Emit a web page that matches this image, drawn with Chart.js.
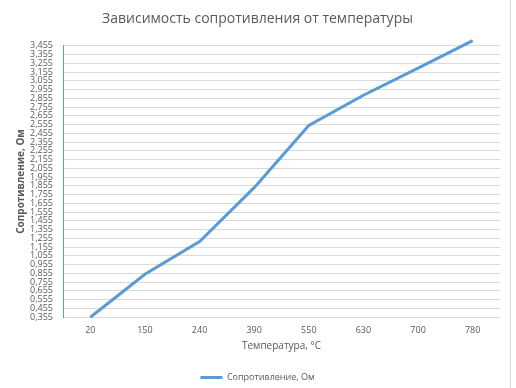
<!DOCTYPE html>
<html>
<head>
<meta charset="utf-8">
<script src="https://cdn.jsdelivr.net/npm/chart.js@4"></script>
<style>
  html, body { margin: 0; padding: 0; background: #ffffff; }
  #wrap { position: relative; width: 516px; height: 388px; }
  #edge { position: absolute; left: 510px; top: 0; width: 1px; height: 388px; background: #d9d9d9; }
</style>
</head>
<body>
<div id="wrap">
    <canvas id="chart" width="516" height="388"></canvas>
    <div id="edge"></div>
</div>
<script>
// Data
const temperatures = ["20", "150", "240", "390", "550", "630", "700", "780"];
const resistance = [0.355, 0.845, 1.22, 1.835, 2.545, 2.89, 3.2, 3.515];
const yTicks = [
    0.355, 0.455, 0.555, 0.655, 0.755, 0.855, 0.955, 1.055, 1.155, 1.255, 1.355,
    1.455, 1.555, 1.655, 1.755, 1.855, 1.955, 2.055, 2.155, 2.255, 2.355, 2.455,
    2.555, 2.655, 2.755, 2.855, 2.955, 3.055, 3.155, 3.255, 3.355, 3.455,
];

const textColor = "#595959";
const font = "'Open Sans', 'Liberation Sans', sans-serif";

// Chart
const ctx = document.getElementById("chart").getContext("2d");
new Chart(ctx, {
    type: "line",
    data: {
        labels: temperatures,
        datasets: [
            {
                label: "Сопротивление, Ом",
                data: resistance,
                borderColor: "#5b9bd5",
                backgroundColor: "#5b9bd5",
                borderWidth: 3,
                pointRadius: 0,
                tension: 0,
                clip: false,
            },
        ],
    },
    options: {
        responsive: false,
        animation: false,
        layout: {
            padding: { left: 15, right: 16, top: 11, bottom: -4 },
        },
        scales: {
            x: {
                offset: true,
                grid: { display: false, drawTicks: false },
                border: { display: false },
                ticks: { color: textColor, font: { family: font, size: 9 }, padding: 8 },
                title: {
                    display: true,
                    text: "Температура, °C",
                    color: textColor,
                    font: { family: font, size: 10 },
                    padding: { top: -4, bottom: 21 },
                },
            },
            y: {
                min: 0.355,
                max: 3.455,
                afterBuildTicks: (scale) => {
                    scale.ticks = yTicks.map((v) => ({ value: v }));
                },
                afterFit: (scale) => {
                    scale.width = 48;
                },
                grid: { color: "#d9d9d9", drawTicks: false },
                border: { color: "#5b9bd5", width: 1 },
                ticks: {
                    autoSkip: false,
                    color: textColor,
                    padding: 10,
                    font: { family: font, size: 9 },
                    callback: (v) => Number(v).toFixed(3).replace(".", ","),
                },
                title: {
                    display: true,
                    text: "Сопротивление, Ом",
                    color: textColor,
                    font: { family: font, size: 10, weight: "bold" },
                    padding: { top: 0, bottom: 2 },
                },
            },
        },
        plugins: {
            title: {
                display: true,
                text: "Зависимость сопротивления от температуры",
                color: textColor,
                font: { family: font, size: 14, weight: "normal" },
                padding: { top: 0, bottom: 18 },
            },
            legend: {
                position: "bottom",
                labels: {
                    color: textColor,
                    font: { family: font, size: 9 },
                    usePointStyle: true,
                    pointStyle: "line",
                    pointStyleWidth: 22,
                    boxWidth: 24,
                    padding: 0,
                },
            },
            tooltip: { enabled: false },
        },
    },
});
</script>
</body>
</html>
